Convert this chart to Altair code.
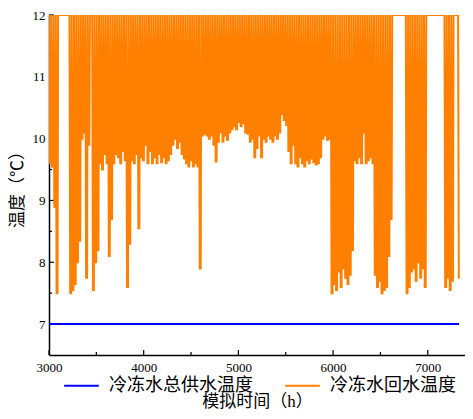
import altair as alt
import pandas as pd

# ---- data ----
START_HOUR = 3000
supply_hours = [3000, 7330]
supply_temp = [7.0, 7.0]

# daily minimum of the return-water temperature (None = plant off, temperature stays at/above 12)
daily_min = [
    9.6, 9.55, 8.9, 7.5, None, None, None, None, None, 7.5,
    7.55, 7.65, 8.0, 8.35, 10.0, 10.1, 7.75, 9.9, None, 7.55,
    8.0, 8.2, 9.6, 9.5, 9.75, 9.6, 8.1, 8.7, 9.6, 9.75,
    9.7, 9.6, 9.8, 9.65, 7.6, 8.3, 9.65, 9.6, 9.75, 8.55,
    9.7, 9.65, 9.9, 9.6, 9.8, 9.6, 9.7, 9.6, 9.75, 9.62,
    9.7, 9.6, 9.65, 9.75, 9.9, 10.0, 9.85, 9.95, 9.75, 9.68,
    9.6, 9.55, 9.65, 9.55, 9.6, 9.55, 7.9, 10.05, 10.08, 10.05,
    10.0, 10.05, 9.9, 9.63, 9.95, 10.1, 9.95, 10.05, 9.98, 10.1,
    10.15, 10.2, 10.15, 10.27, 10.2, 10.25, 10.1, 10.08, 9.95, 10.0,
    9.7, 9.85, 10.05, 9.7, 10.0, 9.95, 10.05, 10.0, 9.95, 10.05,
    10.0, 10.1, 10.4, 10.3, 10.22, 9.8, 9.6, 9.9, 9.6, 9.55,
    9.7, 9.6, 9.55, 9.65, 9.6, 9.68, 9.62, 9.58, 9.6, 9.7,
    10.0, 10.05, 9.98, 10.0, 7.5, 7.65, 7.55, 7.85, 7.6, 7.9,
    7.75, 7.65, 7.8, 8.2, 9.65, 9.6, 9.7, 9.6, 10.1, 9.6,
    9.65, 9.7, 9.6, 7.8, 7.6, 7.7, 7.5, 7.55, 7.6, 8.1,
    8.7, None, None, None, None, None, None, 7.5, 7.6, 7.85,
    7.9, 7.7, 8.0, 7.75, 7.9, 7.6, None, None, None, None,
    None, None, None, None, 7.6, 7.75, 7.55, 7.7, None, None,
    7.75,
]
off_temp = 12.0          # top of the axis (the curve is clipped there)
on_hours = [8, 18]       # hours within a day at which the minimum is held

series_names = ["冷冻水总供水温度", "冷冻水回水温度"]
series_colors = ["#0000FF", "#FF8000"]

x_ticks = [3000, 4000, 5000, 6000, 7000]
x_minor = [3500, 4500, 5500, 6500]
y_ticks = [7, 8, 9, 10, 11, 12]
y_minor = [7.5, 8.5, 9.5, 10.5, 11.5]

# ---- build tables ----
rows = []
for h, v in zip(supply_hours, supply_temp):
    rows.append({"h": h, "t": v, "s": series_names[0]})
for d, m in enumerate(daily_min):
    t0 = START_HOUR + 24 * d
    rows.append({"h": t0, "t": off_temp, "s": series_names[1]})
    if m is not None:
        for oh in on_hours:
            rows.append({"h": t0 + oh, "t": m, "s": series_names[1]})
df = pd.DataFrame(rows)

W, H = 416, 340
FONT = "Liberation Serif, Noto Sans CJK SC"
xs = alt.Scale(domain=[3000, 7393], nice=False, zero=False)
ys = alt.Scale(domain=[6.5, 12], nice=False, zero=False)

lines = alt.Chart(df).mark_line(strokeWidth=2, clip=True).encode(
    x=alt.X("h:Q", scale=xs,
            axis=alt.Axis(values=x_ticks, title="模拟时间（h）", tickSize=0, labelPadding=6,
                          labelFlush=False, titlePadding=19, format="d")),
    y=alt.Y("t:Q", scale=ys,
            axis=alt.Axis(values=y_ticks, title="温度（℃）", tickSize=0, labelPadding=4,
                          titlePadding=6, format="d")),
    color=alt.Color("s:N", sort=series_names,
                    scale=alt.Scale(domain=series_names, range=series_colors),
                    legend=alt.Legend(title=None, orient="none", direction="horizontal",
                                      legendX=14, legendY=352, symbolType="stroke",
                                      symbolSize=1200, symbolStrokeWidth=2,
                                      labelFontSize=18, labelOffset=9, columnPadding=28,
                                      labelFont=FONT, padding=0)),
    detail="s:N",
)

xt = alt.Chart(pd.DataFrame({"v": x_ticks})).mark_rule(color="black", strokeWidth=1.2).encode(
    x=alt.X("v:Q", scale=xs), y=alt.value(H), y2=alt.value(H - 5))
xm = alt.Chart(pd.DataFrame({"v": x_minor})).mark_rule(color="black", strokeWidth=1.2).encode(
    x=alt.X("v:Q", scale=xs), y=alt.value(H), y2=alt.value(H - 3))
yt = alt.Chart(pd.DataFrame({"v": y_ticks})).mark_rule(color="black", strokeWidth=1.2).encode(
    y=alt.Y("v:Q", scale=ys), x=alt.value(0), x2=alt.value(5))
ym = alt.Chart(pd.DataFrame({"v": y_minor})).mark_rule(color="black", strokeWidth=1.2).encode(
    y=alt.Y("v:Q", scale=ys), x=alt.value(0), x2=alt.value(3))

chart = alt.layer(xt, xm, yt, ym, lines).properties(
    width=W, height=H,
    autosize=alt.AutoSizeParams(type="none"),
    padding={"left": 41, "top": 7, "right": 0, "bottom": 56},
).configure_view(stroke=None).configure_axis(
    grid=False, domainColor="black", domainWidth=1.5,
    labelFont=FONT, labelFontSize=13, labelColor="black",
    titleFont=FONT, titleFontSize=17, titleColor="black", titleFontWeight="normal",
).configure_legend(labelColor="black")

chart.save("out.html", embed_options={"renderer": "svg", "actions": False})
